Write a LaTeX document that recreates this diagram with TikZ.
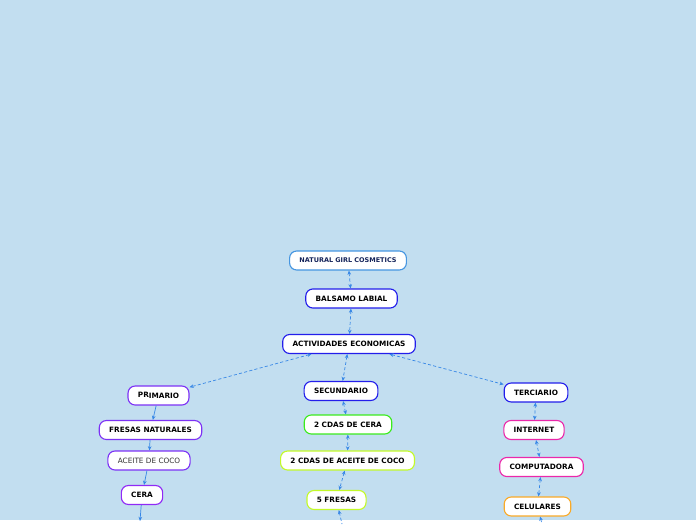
\documentclass[tikz,border=0pt]{standalone}
\usepackage{fontspec}
\setmainfont{DejaVu Sans}
\usetikzlibrary{arrows.meta}
\definecolor{bgblue}{RGB}{194,222,240}
\definecolor{linkblue}{RGB}{55,135,230}
\definecolor{skyline}{RGB}{70,150,225}
\definecolor{navy}{RGB}{20,35,90}
\definecolor{deepblue}{RGB}{35,30,235}
\definecolor{violet}{RGB}{125,50,245}
\definecolor{lgreen}{RGB}{60,235,30}
\definecolor{lime}{RGB}{195,250,40}
\definecolor{pinkline}{RGB}{235,40,170}
\definecolor{orangeline}{RGB}{250,170,40}

\begin{document}
\begin{tikzpicture}[x=0.025cm,y=-0.025cm,line width=0.8pt,>={Stealth[length=3pt,width=2.6pt]},
  box/.style={draw,fill=white,rounded corners=5pt,minimum height=13.5pt,inner xsep=7pt,inner ysep=1pt,
    font=\fontsize{5.2}{6}\selectfont\bfseries},
  link/.style={<->,dashed,dash pattern=on 2.2pt off 1.6pt,line width=0.5pt,draw=linkblue},
  flow/.style={->,line width=0.5pt,draw=linkblue}]
% ---------- fondo ----------
\fill[bgblue] (0,0) rectangle (696,520);
% ---------- centro ----------
\node[box,draw=skyline,text=navy,font=\fontsize{4.6}{5.5}\selectfont\bfseries,minimum width=81pt] (ngc) at (348,260.5) {NATURAL GIRL COSMETICS};
\node[box,draw=deepblue] (balsamo) at (351.5,298.5) {BALSAMO LABIAL};
\node[box,draw=deepblue] (activ) at (349,344) {ACTIVIDADES ECONOMICAS};
\draw[link] (ngc) -- (balsamo);
\draw[link] (balsamo) -- (activ);
% ---------- primario ----------
\node[box,draw=violet] (prim) at (158.5,395.5) {\raisebox{0.7pt}{PR}IMARIO};
\node[box,draw=violet] (fresasnat) at (150.5,430) {FRESAS NATURALES};
\node[box,draw=violet,font=\fontsize{5.2}{6}\selectfont,text=black!80] (aceite) at (149,460.5) {ACEITE DE COCO};
\node[box,draw=violet!85!magenta] (cera) at (142,495) {CERA};
\coordinate (ceraend) at (140,521);
\draw[link] (activ.195) -- (prim.15);
\draw[flow] (prim) -- (fresasnat);
\draw[flow] (fresasnat) -- (aceite);
\draw[flow] (aceite) -- (cera);
\draw[flow] (cera) -- (ceraend);
% ---------- secundario ----------
\node[box,draw=deepblue] (secund) at (341,391) {SECUNDARIO};
\node[box,draw=lgreen] (cdascera) at (348,424.5) {2 CDAS DE CERA};
\node[box,draw=lime] (cdascoco) at (347.5,460.5) {2 CDAS DE ACEITE DE COCO};
\node[box,draw=lime] (fresas) at (336.5,500) {5 FRESAS};
\coordinate (fresasend) at (342,524);
\draw[link] (activ) -- (secund);
\draw[link] (secund) -- (cdascera);
\draw[link] (cdascera) -- (cdascoco);
\draw[link] (cdascoco) -- (fresas);
\draw[dashed,dash pattern=on 2.2pt off 1.6pt,line width=0.5pt,draw=linkblue,<-] (fresas) -- (fresasend);
% ---------- terciario ----------
\node[box,draw=deepblue] (terc) at (536,392.5) {TERCIARIO};
\node[box,draw=pinkline] (internet) at (534,430) {INTERNET};
\node[box,draw=pinkline] (compu) at (541.5,467) {COMPUTADORA};
\node[box,draw=orangeline] (celu) at (537.5,506.5) {CELULARES};
\coordinate (celuend) at (542,524);
\draw[link] (activ.346) -- (terc.166);
\draw[link] (terc) -- (internet);
\draw[link] (internet) -- (compu);
\draw[link] (compu) -- (celu);
\draw[dashed,dash pattern=on 2.2pt off 1.6pt,line width=0.5pt,draw=linkblue,<-] (celu) -- (celuend);
\useasboundingbox (0,0) rectangle (696,520);
\end{tikzpicture}
\end{document}
